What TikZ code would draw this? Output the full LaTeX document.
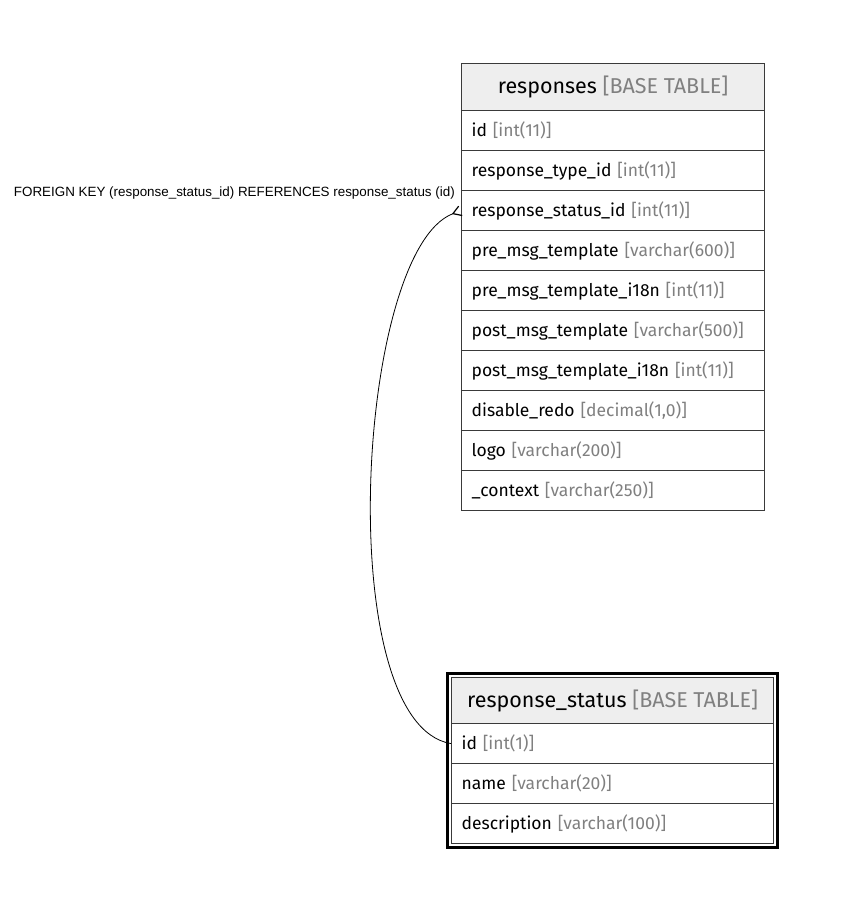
\documentclass[tikz,border=0pt]{standalone}
\usepackage{fontspec}
\setmainfont{Fira Sans}
\newfontfamily\labelfont{Liberation Sans}
\usetikzlibrary{arrows.meta}
\definecolor{hdrfill}{HTML}{EEEEEE}
\definecolor{typegray}{HTML}{808080}
\definecolor{edge}{HTML}{3A3A3A}
\tikzset{
  tblhead/.style={draw=edge, line width=1.2pt, fill=hdrfill, anchor=north west,
    minimum height=47pt, inner sep=0pt, font=\fontsize{21.5}{25}\selectfont},
  tblrow/.style={draw=edge, line width=1.2pt, fill=white, anchor=north west,
    minimum height=40pt, inner xsep=10pt, inner ysep=0pt, align=left,
    font=\fontsize{17.5}{20}\selectfont},
  fkline/.style={draw=black, line width=0.8pt, -{Straight Barb[reversed,length=8pt,width=10pt,line width=1.2pt]}},
  fklabel/.style={anchor=east, inner sep=0pt, font=\labelfont\fontsize{13.4}{15}\selectfont}
}
\newcommand{\coltype}[1]{{\color{typegray}[#1]}}
\begin{document}
\begin{tikzpicture}[x=1pt,y=-1pt]
\useasboundingbox (0,0) rectangle (841,909);

% table: responses
\node[tblhead, minimum width=303pt] (rhead) at (461,63) {responses \coltype{BASE TABLE}};
\node[tblrow, text width=283pt] (r1) at (461,110) {id \coltype{int(11)}};
\node[tblrow, text width=283pt] (r2) at (461,150) {response\_type\_id \coltype{int(11)}};
\node[tblrow, text width=283pt] (r3) at (461,190) {response\_status\_id \coltype{int(11)}};
\node[tblrow, text width=283pt] (r4) at (461,230) {pre\_msg\_template \coltype{varchar(600)}};
\node[tblrow, text width=283pt] (r5) at (461,270) {pre\_msg\_template\_i18n \coltype{int(11)}};
\node[tblrow, text width=283pt] (r6) at (461,310) {post\_msg\_template \coltype{varchar(500)}};
\node[tblrow, text width=283pt] (r7) at (461,350) {post\_msg\_template\_i18n \coltype{int(11)}};
\node[tblrow, text width=283pt] (r8) at (461,390) {disable\_redo \coltype{decimal(1,0)}};
\node[tblrow, text width=283pt] (r9) at (461,430) {logo \coltype{varchar(200)}};
\node[tblrow, text width=283pt] (r10) at (461,470) {\_context \coltype{varchar(250)}};

% table: response_status (highlighted with a heavy outer frame)
\node[tblhead, minimum width=322pt] (shead) at (451,677) {response\_status \coltype{BASE TABLE}};
\node[tblrow, text width=302pt] (s1) at (451,723) {id \coltype{int(1)}};
\node[tblrow, text width=302pt] (s2) at (451,763) {name \coltype{varchar(20)}};
\node[tblrow, text width=302pt] (s3) at (451,803) {description \coltype{varchar(100)}};
\draw[black, line width=2.6pt] ([shift={(-3.5pt,3.5pt)}]shead.north west) rectangle ([shift={(3.5pt,-3.5pt)}]s3.south east);

% foreign key connector
\draw[fkline] (s1.west) .. controls +(-120,-20) and +(-105,40) .. (r3.west);
\node[fklabel] (fk) at (455,193) {FOREIGN KEY (response\_status\_id) REFERENCES response\_status (id)};
\end{tikzpicture}
\end{document}
